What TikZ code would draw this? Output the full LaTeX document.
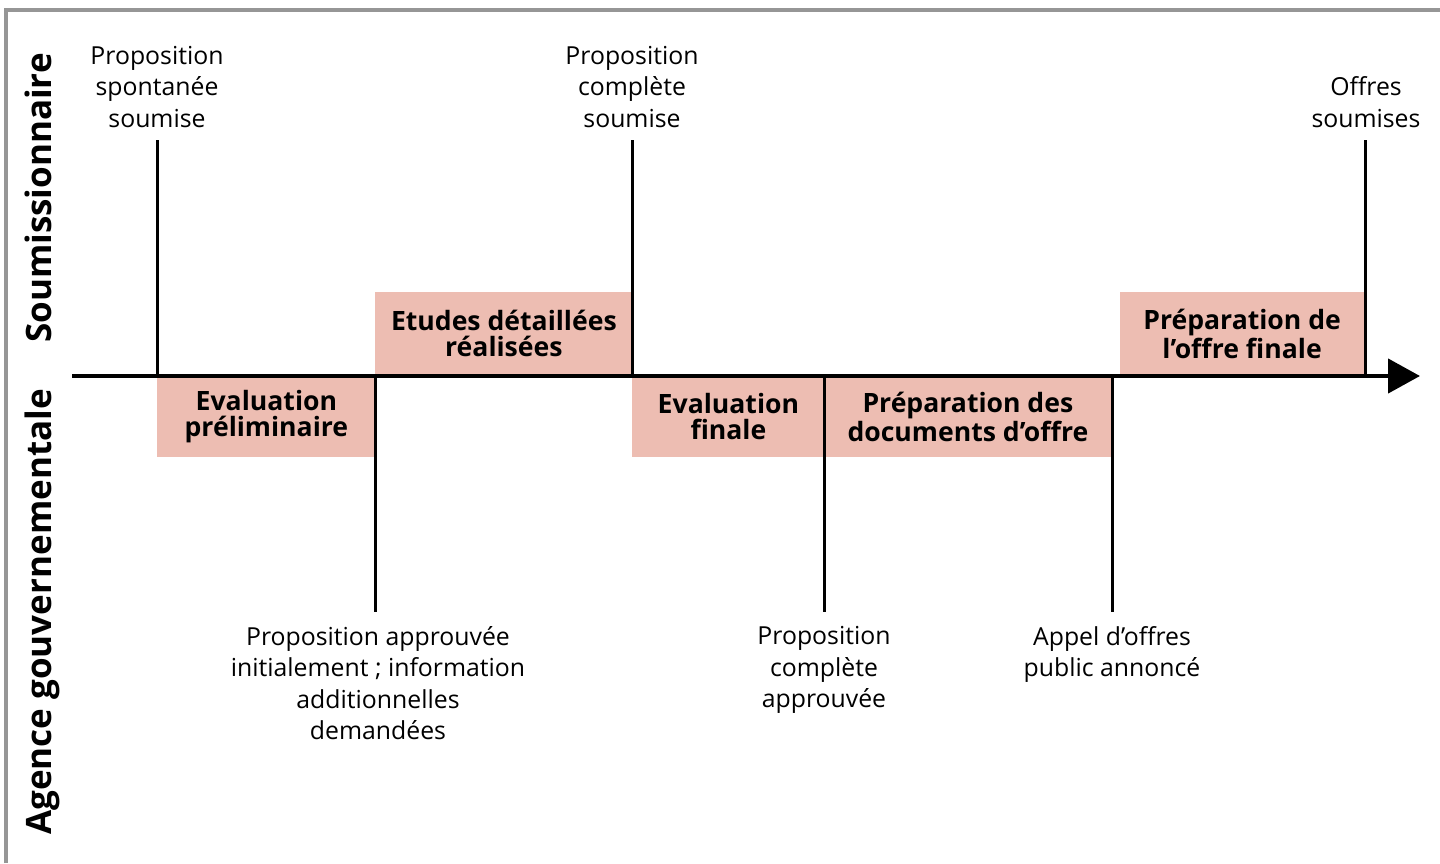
\documentclass[tikz,border=0pt]{standalone}
\usepackage{fontspec}
\setmainfont{Open Sans}
\usetikzlibrary{arrows.meta}
\definecolor{phasefill}{RGB}{237,189,178}
\definecolor{framegray}{RGB}{150,150,150}
\tikzset{
  event/.style={align=center, inner sep=0pt, font=\fontsize{12.4}{15.75}\selectfont},
  phase/.style={fill=phasefill, align=center, inner sep=0pt, minimum height=40.5pt,
    font=\bfseries\fontsize{13.3}{13}\selectfont},
  party/.style={rotate=90, inner sep=0pt, anchor=base, font=\bfseries\fontsize{17.5}{20}\selectfont},
  tick/.style={line width=1.5pt},
}
\begin{document}
\begin{tikzpicture}[x=0.5pt,y=-0.5pt]
\useasboundingbox (0,0) rectangle (1440,863);
\draw[framegray, line width=1.75pt] (6,863) -- (6,10) -- (1440,10);
% points on the time axis
\coordinate (start) at (72,376);
\coordinate (end) at (1420,376);
\coordinate (a1) at (157,376);
\coordinate (a2) at (375,376);
\coordinate (a3) at (632,376);
\coordinate (a4) at (824,376);
\coordinate (a5) at (1112,376);
\coordinate (a6) at (1365,376);
% phases
\node[phase, minimum width=109pt, anchor=north west] (evprel) at (a1) {Evaluation\\préliminaire};
\node[phase, minimum width=128.5pt, minimum height=42pt, anchor=south west] (etudes) at (a2) {Etudes détaillées\\réalisées};
\node[phase, minimum width=96pt, anchor=north west] (evfin) at (a3) {Evaluation\\finale};
\node[phase, minimum width=143.5pt, anchor=north west] (docs) at (a4) {Préparation des\\documents d’offre};
\node[phase, minimum width=122.5pt, minimum height=42pt, anchor=south east] (offre) at (a6) {Préparation de\\l’offre finale};
% events
\node[event, anchor=south] (spont) at (157,128) {Proposition\\spontanée\\soumise};
\node[event, anchor=south] (compl) at (632,128) {Proposition\\complète\\soumise};
\node[event, anchor=south] (offres) at (1366,128) {Offres\\soumises};
\node[event, anchor=north] (appinit) at (378,626) {Proposition approuvée\\initialement ; information\\additionnelles\\demandées};
\node[event, anchor=north] (appcompl) at (824,626) {Proposition\\complète\\approuvée};
\node[event, anchor=north] (appel) at (1112,626) {Appel d’offres\\public annoncé};
\draw[tick, shorten <=6pt] (spont) -- (a1);
\draw[tick, shorten <=6pt] (compl) -- (a3);
\draw[tick, shorten <=6pt] (offres.south -| a6) -- (a6);
\draw[tick, shorten >=7pt] (a2) -- (appinit.north -| a2);
\draw[tick, shorten >=7pt] (a4) -- (appcompl);
\draw[tick, shorten >=7pt] (a5) -- (appel);
% axis
\draw[line width=2.25pt, -{Triangle[length=16pt,width=17pt]}] (start) -- (end);
% parties
\node[party] (soum) at (51,198) {Soumissionnaire};
\node[party] (agence) at (51,612) {Agence gouvernementale};
\end{tikzpicture}
\end{document}
